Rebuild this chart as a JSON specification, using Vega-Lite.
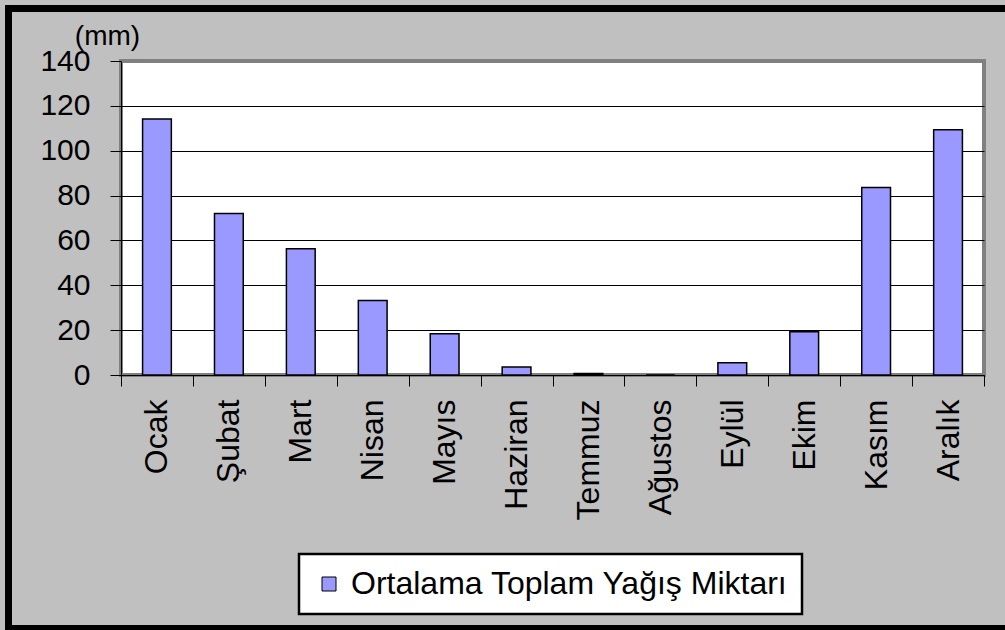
{
  "$schema": "https://vega.github.io/schema/vega-lite/v6.json",
  "width": 863,
  "height": 314,
  "autosize": {"type": "none"},
  "padding": {"left": 121, "top": 61, "right": 21, "bottom": 255},
  "background": "#C0C0C0",
  "data": {
    "values": [
      {"ay": "Ocak", "yagis": 114.1},
      {"ay": "Şubat", "yagis": 72.0},
      {"ay": "Mart", "yagis": 56.3},
      {"ay": "Nisan", "yagis": 33.2},
      {"ay": "Mayıs", "yagis": 18.4},
      {"ay": "Haziran", "yagis": 3.6},
      {"ay": "Temmuz", "yagis": 0.7},
      {"ay": "Ağustos", "yagis": 0},
      {"ay": "Eylül", "yagis": 5.5},
      {"ay": "Ekim", "yagis": 19.3},
      {"ay": "Kasım", "yagis": 83.6},
      {"ay": "Aralık", "yagis": 109.4}
    ]
  },
  "mark": {"type": "bar", "width": {"band": 0.4}, "strokeWidth": 1.5},
  "encoding": {
    "x": {
      "field": "ay",
      "type": "nominal",
      "sort": null,
      "scale": {"paddingInner": 0, "paddingOuter": 0},
      "axis": {
        "title": null,
        "labelAngle": -90,
        "labelAlign": "right",
        "labelBaseline": "middle",
        "tickBand": "extent",
        "tickSize": 11,
        "tickColor": "black",
        "tickWidth": 1,
        "domainColor": "black",
        "domainWidth": 1,
        "labelFontSize": 32,
        "labelPadding": 13,
        "labelColor": "black",
        "grid": false
      }
    },
    "y": {
      "field": "yagis",
      "type": "quantitative",
      "scale": {"domain": [0, 140], "nice": false},
      "axis": {
        "values": [0, 20, 40, 60, 80, 100, 120, 140],
        "title": "(mm)",
        "titleAngle": 0,
        "titleAlign": "center",
        "titleBaseline": "alphabetic",
        "titleX": -14,
        "titleY": -17,
        "titleFontSize": 28,
        "titleFontWeight": "normal",
        "titleColor": "black",
        "labelFontSize": 30,
        "labelColor": "black",
        "labelPadding": 20,
        "tickSize": 11,
        "tickColor": "black",
        "tickWidth": 1,
        "domainColor": "black",
        "domainWidth": 1,
        "grid": true,
        "gridColor": "black",
        "gridWidth": 1,
        "gridOpacity": {"condition": {"test": "datum.value == 140", "value": 0}, "value": 1}
      }
    },
    "stroke": {
      "datum": 1,
      "type": "quantitative",
      "scale": {"domain": [0, 1], "range": ["black", "black"]},
      "legend": {
        "orient": "none",
        "legendX": -112.5,
        "legendY": -52.5,
        "title": null,
        "direction": "horizontal",
        "gradientLength": 1010,
        "gradientThickness": 619,
        "padding": 0,
        "labelFontSize": 1,
        "labelOffset": 0,
        "labelOpacity": 0,
        "tickCount": 1,
        "strokeColor": "black",
        "encode": {
          "legend": {"update": {"strokeWidth": {"value": 7}}},
          "gradient": {"update": {"opacity": {"value": 0}, "strokeOpacity": {"value": 0}}},
          "labels": {"update": {"text": {"value": ""}}}
        }
      }
    },
    "color": {
      "datum": "Ortalama Toplam Yağış Miktarı",
      "type": "nominal",
      "scale": {"range": ["#9999FF"]},
      "legend": {
        "orient": "none",
        "legendX": 178,
        "legendY": 493,
        "title": null,
        "fillColor": "white",
        "strokeColor": "black",
        "padding": 14,
        "labelFontSize": 32,
        "labelColor": "black",
        "labelLimit": 1000,
        "labelOffset": 6,
        "symbolType": "square",
        "symbolSize": 196,
        "symbolStrokeColor": "black",
        "symbolStrokeWidth": 1,
        "symbolOpacity": 1,
        "encode": {"legend": {"update": {"strokeWidth": {"value": 2.5}}}}
      }
    }
  },
  "config": {
    "font": "Liberation Sans",
    "view": {"fill": "white", "stroke": "#808080", "strokeWidth": 4}
  }
}
